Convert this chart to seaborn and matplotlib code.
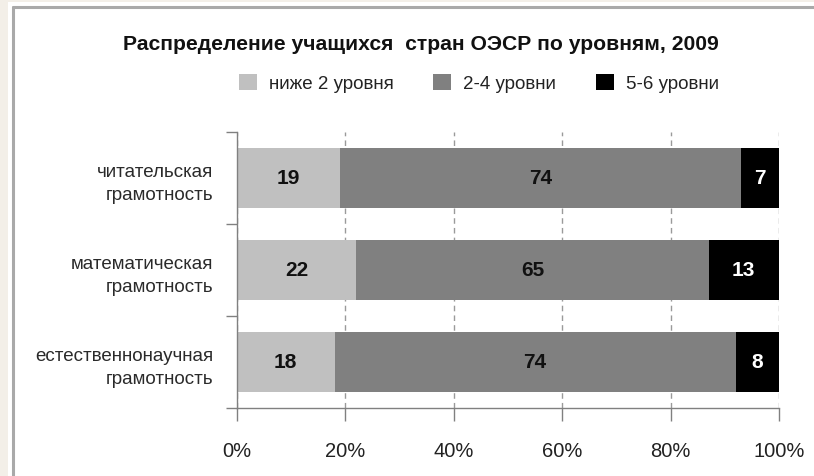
import matplotlib
matplotlib.use("Agg")
import matplotlib.pyplot as plt
import seaborn as sns
import numpy as np
from matplotlib.patches import Rectangle, Patch
from matplotlib.lines import Line2D

# Share of students by proficiency level (%), OECD 2009
categories = ["читательская\nграмотность",
              "математическая\nграмотность",
              "естественнонаучная\nграмотность"]
levels = ["ниже 2 уровня", "2-4 уровни", "5-6 уровни"]
below_2 = [19, 22, 18]
levels_2_4 = [74, 65, 74]
levels_5_6 = [7, 13, 8]
xticks = [0, 20, 40, 60, 80, 100]
xtick_labels = ["0%", "20%", "40%", "60%", "80%", "100%"]

colors = ["#c0c0c0", "#808080", "#000000"]
value_colors = ["#111111", "#111111", "#ffffff"]

sns.set_theme(style="white")
plt.rcParams["font.family"] = ["Liberation Sans Narrow", "Liberation Sans", "DejaVu Sans"]

series = np.array([below_2, levels_2_4, levels_5_6], dtype=float)
ends = np.cumsum(series, axis=0)
starts = ends - series

W, H = 814, 477
fig = plt.figure(figsize=(W / 100, H / 100), dpi=100)
fig.patch.set_facecolor("#f3efe8")

# white slide panel with a grey frame on the left and top
fig.add_artist(Rectangle((8 / W, 0), 1, 1 - 3 / H, transform=fig.transFigure,
                         facecolor="white", edgecolor="none", zorder=-5))
fig.add_artist(Line2D([13.5 / W, 13.5 / W], [0, 1 - 8 / H], transform=fig.transFigure,
                      color="#a9a9a9", lw=2.2, zorder=-4))
fig.add_artist(Line2D([13.5 / W, 1], [1 - 8 / H, 1 - 8 / H], transform=fig.transFigure,
                      color="#a9a9a9", lw=2.2, zorder=-4))

ax = fig.add_axes([237 / W, 1 - 409 / H, (779 - 237) / W, (409 - 133) / H])
ax.set_facecolor("none")

# stacked bars: draw cumulative totals from the longest down
for i in reversed(range(len(levels))):
    sns.barplot(x=ends[i], y=categories, orient="h", color=colors[i], width=0.66,
                saturation=1, linewidth=0, ax=ax, zorder=2)

for i in range(len(levels)):
    for j in range(len(categories)):
        ax.text((starts[i, j] + ends[i, j]) / 2, j, f"{int(series[i, j])}",
                ha="center", va="center", fontsize=15, fontweight="bold",
                color=value_colors[i], zorder=4)

ax.set_xlim(0, 100)
ax.set_ylim(2.5, -0.5)
ax.set_xlabel("")
ax.set_ylabel("")

ax.set_xticks(xticks, labels=xtick_labels)
ax.set_yticks([-0.5, 0.5, 1.5, 2.5], labels=[])
ax.set_yticks(range(len(categories)), labels=categories, minor=True)
for t in ax.get_yticklabels(minor=True):
    t.set_horizontalalignment("right")
    t.set_multialignment("right")
    t.set_linespacing(1.45)

ax.tick_params(axis="x", which="major", length=9, width=1, color="#808080",
               labelsize=14.5, pad=15, labelcolor="#222222", direction="out", bottom=True)
ax.tick_params(axis="y", which="major", length=8, width=1, color="#808080",
               direction="out", left=True)
ax.tick_params(axis="y", which="minor", length=0, labelsize=13.5, pad=17,
               labelcolor="#2a2a2a")

ax.xaxis.grid(True, linestyle=(0, (4, 3)), color="#9a9a9a", lw=1)
ax.set_axisbelow(True)
for side in ["top", "right"]:
    ax.spines[side].set_visible(False)
for side in ["left", "bottom"]:
    ax.spines[side].set_visible(True)
    ax.spines[side].set_color("#808080")
    ax.spines[side].set_linewidth(1)

fig.text(421 / W, 1 - 45 / H, "Распределение учащихся  стран ОЭСР по уровням, 2009",
         ha="center", va="center", fontsize=15.2, fontweight="bold", color="#111111")

handles = [Patch(facecolor=c, edgecolor="none") for c in colors]
fig.legend(handles, levels, loc="center", bbox_to_anchor=(479 / W, 1 - 84 / H), ncol=3,
           frameon=False, handlelength=0.95, handleheight=0.95, handletextpad=0.65,
           columnspacing=2.1, fontsize=13.5, labelcolor="#222222")

fig.savefig("out.png", dpi=100, facecolor=fig.get_facecolor())
